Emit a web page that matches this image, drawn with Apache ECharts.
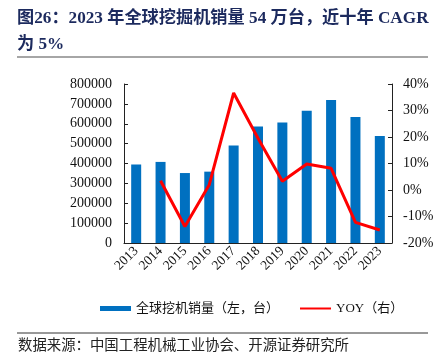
<!DOCTYPE html>
<html>
<head>
<meta charset="utf-8">
<script src="https://cdn.jsdelivr.net/npm/echarts@6/dist/echarts.min.js"></script>
<style>
html,body{margin:0;padding:0;background:#fff;}
#chart{width:438px;height:363px;}
</style>
</head>
<body>
<div id="chart"></div>
<script>
var years = ['2013','2014','2015','2016','2017','2018','2019','2020','2021','2022','2023'];
var sales = [395000, 408000, 352000, 359000, 491000, 586000, 606000, 665000, 719000, 634000, 538000];
var yoy = [null, 3.5, -13.8, 2.0, 36.6, 19.5, 3.3, 9.8, 8.2, -12.2, -15.1];
var leftTicks = {min: 0, max: 800000, interval: 100000};
var rightTicks = {min: -20, max: 40, interval: 10};

var serif = "'Liberation Serif','Times New Roman','Noto Sans CJK SC',serif";
var chart = echarts.init(document.getElementById('chart'), null, {renderer: 'canvas'});
var axisLineStyle = {color: '#222', width: 1};
chart.setOption({
  animation: false,
  grid: {left: 124, right: 46, top: 84, bottom: 120},
  graphic: [
    {type: 'text', left: 17, top: 10, style: {text: '图26：2023 年全球挖掘机销量 54 万台，近十年 CAGR', font: "bold 17.2px " + serif, fill: '#1c2a5e'}},
    {type: 'text', left: 17, top: 36, style: {text: '为 5%', font: "bold 17.2px " + serif, fill: '#1c2a5e'}},
    {type: 'line', shape: {x1: 17, y1: 57, x2: 428, y2: 57}, style: {stroke: '#888', lineWidth: 1.5}},
    {type: 'line', shape: {x1: 17, y1: 333, x2: 428, y2: 333}, style: {stroke: '#333', lineWidth: 1}},
    {type: 'text', left: 18, top: 339, style: {text: '数据来源：中国工程机械工业协会、开源证券研究所', font: "14.4px " + serif, fill: '#222'}}
  ],
  legend: {
    top: 297, left: 95, itemGap: 20, itemWidth: 31, itemHeight: 5,
    textStyle: {fontFamily: serif, fontSize: 13, color: '#111'},
    data: [{name: '全球挖机销量（左，台）', icon: 'rect'}, {name: 'YOY（右）', itemStyle: {opacity: 0}}]
  },
  xAxis: {
    type: 'category', data: years, boundaryGap: true,
    axisLine: {lineStyle: axisLineStyle},
    axisTick: {inside: true, length: 4, lineStyle: axisLineStyle},
    axisLabel: {rotate: 45, interval: 0, margin: 6, fontFamily: serif, fontSize: 13.5, color: '#111'}
  },
  yAxis: [
    {type: 'value', min: leftTicks.min, max: leftTicks.max, interval: leftTicks.interval,
     splitLine: {show: false},
     axisLine: {show: true, lineStyle: axisLineStyle},
     axisTick: {show: true, inside: true, length: 4, lineStyle: axisLineStyle},
     axisLabel: {margin: 12, fontFamily: serif, fontSize: 14, color: '#111', formatter: function (v) { return String(v); }}},
    {type: 'value', min: rightTicks.min, max: rightTicks.max, interval: rightTicks.interval,
     splitLine: {show: false}, position: 'right',
     axisLine: {show: true, lineStyle: axisLineStyle},
     axisTick: {show: true, inside: true, length: 4, lineStyle: axisLineStyle},
     axisLabel: {margin: 11, fontFamily: serif, fontSize: 14, color: '#111', formatter: '{value}%'}}
  ],
  series: [
    {name: '全球挖机销量（左，台）', type: 'bar', data: sales, barWidth: 10, yAxisIndex: 0,
     itemStyle: {color: '#0070C0'}},
    {name: 'YOY（右）', type: 'line', data: yoy, yAxisIndex: 1, symbol: 'none', connectNulls: false,
     lineStyle: {color: '#FF0000', width: 3}, itemStyle: {color: '#FF0000'}}
  ]
});
</script>
</body>
</html>
